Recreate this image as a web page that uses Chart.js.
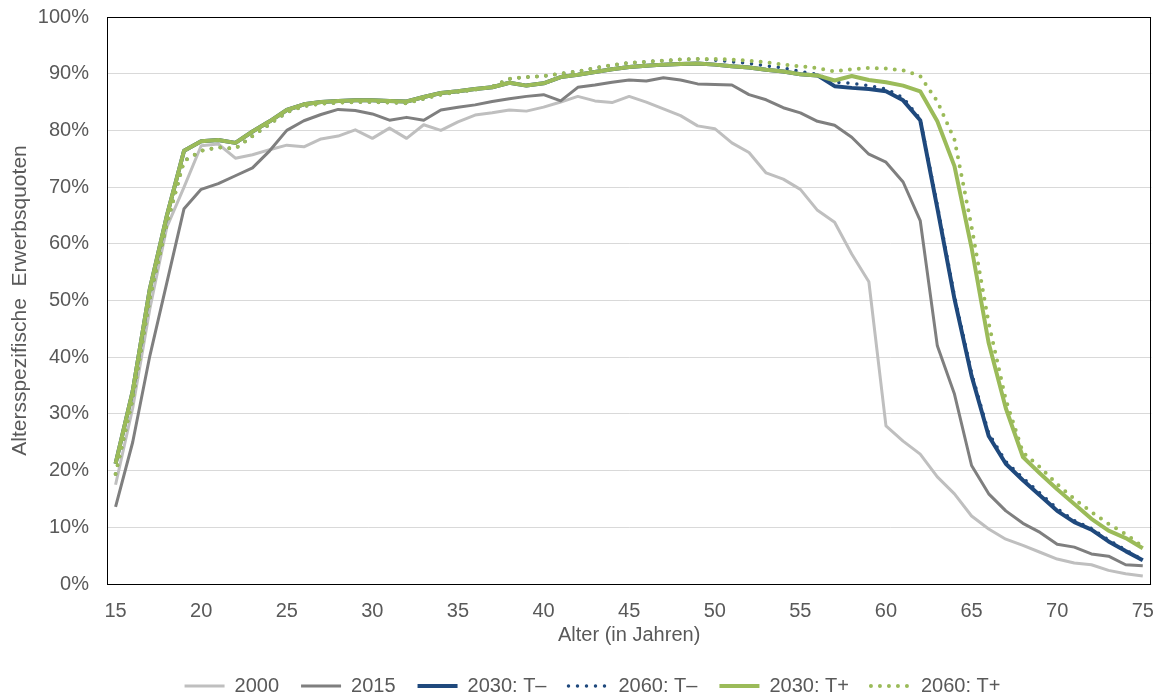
<!DOCTYPE html>
<html>
<head>
<meta charset="UTF-8">
<title>Altersspezifische Erwerbsquoten</title>
<script src="https://cdn.jsdelivr.net/npm/chart.js@4.4.1/dist/chart.umd.min.js"></script>
<style>
  body { margin: 0; background: #fff; }
</style>
</head>
<body>
<canvas id="chart" width="1169" height="699"></canvas>

<script>
// Alter 15..75
const ages = [15, 16, 17, 18, 19, 20, 21, 22, 23, 24,
              25, 26, 27, 28, 29, 30, 31, 32, 33, 34,
              35, 36, 37, 38, 39, 40, 41, 42, 43, 44,
              45, 46, 47, 48, 49, 50, 51, 52, 53, 54,
              55, 56, 57, 58, 59, 60, 61, 62, 63, 64,
              65, 66, 67, 68, 69, 70, 71, 72, 73, 74, 75]

// Erwerbsquoten in %
const q2000 = [17.5, 31.0, 48.5, 63.0, 70.0, 77.3, 77.6, 75.1, 75.7, 76.6,
               77.4, 77.1, 78.5, 79.0, 80.1, 78.6, 80.4, 78.6, 81.0, 80.0,
               81.5, 82.7, 83.1, 83.6, 83.4, 84.1, 85.0, 86.0, 85.2, 84.9,
               86.0, 85.0, 83.8, 82.6, 80.8, 80.3, 77.8, 76.1, 72.5, 71.4,
               69.6, 65.9, 63.8, 58.2, 53.3, 27.9, 25.2, 22.9, 18.9, 15.9,
               12.0, 9.7, 7.9, 6.8, 5.6, 4.4, 3.7, 3.4, 2.4, 1.8, 1.4]

const q2015 = [13.6, 25.0, 40.2, 53.2, 66.2, 69.6, 70.6, 72.0, 73.4, 76.4,
               80.0, 81.7, 82.8, 83.7, 83.5, 82.9, 81.8, 82.3, 81.8, 83.6,
               84.1, 84.5, 85.1, 85.6, 86.0, 86.3, 85.2, 87.6, 88.0, 88.5,
               88.9, 88.7, 89.3, 88.9, 88.2, 88.1, 88.0, 86.3, 85.4, 84.0,
               83.1, 81.6, 80.9, 78.8, 75.8, 74.4, 70.9, 64.1, 42.0, 33.5,
               20.9, 15.9, 12.9, 10.7, 9.1, 7.0, 6.5, 5.3, 4.9, 3.4, 3.2]

const q2030minus = [21.2, 34.0, 52.0, 65.0, 76.4, 78.1, 78.3, 77.8, 79.8, 81.6,
                    83.6, 84.6, 85.0, 85.2, 85.3, 85.3, 85.2, 85.1, 85.9, 86.6,
                    86.9, 87.3, 87.6, 88.4, 87.9, 88.3, 89.4, 89.8, 90.3, 90.8,
                    91.2, 91.4, 91.6, 91.7, 91.8, 91.6, 91.3, 91.1, 90.7, 90.4,
                    89.9, 89.7, 87.8, 87.5, 87.3, 86.9, 85.3, 81.8, 66.3, 50.3,
                    36.7, 26.1, 21.2, 18.3, 15.6, 12.9, 10.9, 9.6, 7.5, 5.8, 4.2]

const q2060minus = [19.4, 32.6, 50.3, 63.5, 74.6, 76.4, 77.0, 76.8, 79.0, 81.1,
                    83.2, 84.3, 84.7, 84.9, 85.0, 85.0, 84.9, 84.8, 85.6, 86.3,
                    86.8, 87.2, 87.7, 89.1, 89.4, 89.6, 90.0, 90.4, 91.0, 91.5,
                    91.9, 92.1, 92.3, 92.5, 92.6, 92.4, 92.1, 91.8, 91.4, 91.0,
                    90.4, 89.9, 88.5, 88.3, 87.9, 87.3, 85.8, 82.0, 66.8, 50.8,
                    37.2, 26.6, 21.6, 18.7, 16.0, 13.3, 11.2, 9.8, 7.8, 6.0, 4.3]

const q2030plus = [21.2, 34.0, 52.0, 65.0, 76.4, 78.1, 78.3, 77.8, 79.8, 81.6,
                   83.6, 84.6, 85.0, 85.2, 85.3, 85.3, 85.2, 85.1, 85.9, 86.6,
                   86.9, 87.3, 87.6, 88.4, 87.9, 88.3, 89.4, 89.8, 90.3, 90.8,
                   91.2, 91.4, 91.6, 91.7, 91.8, 91.6, 91.3, 91.1, 90.7, 90.4,
                   89.9, 89.7, 88.8, 89.6, 88.9, 88.5, 87.9, 86.9, 81.6, 73.7,
                   59.3, 42.5, 31.0, 22.4, 19.5, 16.7, 14.1, 11.5, 9.4, 8.1, 6.3]

const q2060plus = [19.4, 32.6, 50.3, 63.5, 74.6, 76.4, 77.0, 76.8, 79.0, 81.1,
                   83.2, 84.3, 84.7, 84.9, 85.0, 85.0, 84.9, 84.8, 85.6, 86.3,
                   86.8, 87.2, 87.7, 89.1, 89.4, 89.6, 90.0, 90.4, 91.0, 91.5,
                   91.9, 92.1, 92.3, 92.5, 92.6, 92.6, 92.5, 92.3, 92.0, 91.6,
                   91.3, 91.0, 90.4, 90.8, 91.0, 90.9, 90.6, 89.6, 85.1, 78.4,
                   63.0, 46.0, 32.5, 23.2, 20.6, 17.6, 15.0, 12.7, 10.6, 8.8, 6.6]

const hellgrau = '#bfbfbf'
const dunkelgrau = '#7f7f7f'
const blau = '#1f497d'
const gruen = '#9bbb59'
const textFarbe = '#595959'
const schrift = '"Liberation Sans", Arial, sans-serif'

function linie(label, data, color, width, dotted, order) {
   return {
      label: label,
      data: data,
      borderColor: color,
      backgroundColor: color,
      borderWidth: width,
      borderDash: dotted ? [0, 9] : [],
      borderCapStyle: dotted ? 'round' : 'butt',
      borderJoinStyle: 'round',
      pointRadius: 0,
      pointHoverRadius: 0,
      tension: 0,
      fill: false,
      order: order
   }
}

// Rahmen um die Zeichenfläche
const rahmen = {
   id: 'rahmen',
   beforeDatasetsDraw(chart) {
      const a = chart.chartArea
      const ctx = chart.ctx
      ctx.save()
      ctx.strokeStyle = '#000'
      ctx.lineWidth = 1
      ctx.strokeRect(Math.round(a.left) + 0.5, Math.round(a.top) + 0.5,
                     Math.round(a.right - a.left) - 1, Math.round(a.bottom - a.top))
      ctx.restore()
   }
}

const ctx = document.querySelector('#chart').getContext('2d')
const chart = new Chart(ctx, {
   type: 'line',
   data: {
      labels: ages,
      datasets: [
         linie('2000', q2000, hellgrau, 3, false, 5),
         linie('2015', q2015, dunkelgrau, 3, false, 4),
         linie('2030: T\u2013', q2030minus, blau, 4, false, 3),
         linie('2060: T\u2013', q2060minus, blau, 3.5, true, 2),
         linie('2030: T+', q2030plus, gruen, 4, false, 1),
         linie('2060: T+', q2060plus, gruen, 4, true, 0)
      ]
   },
   options: {
      responsive: false,
      devicePixelRatio: 1,
      animation: false,
      // links mehr Rand, damit die Legende wie im Original etwas nach rechts rückt
      layout: { padding: { top: 17, right: 12, bottom: -7, left: 28 } },
      scales: {
         x: {
            type: 'category',
            offset: true,
            grid: { display: false, drawTicks: false },
            border: { display: false },
            ticks: {
               autoSkip: false,
               maxRotation: 0,
               padding: 15,
               color: textFarbe,
               font: { family: schrift, size: 20 },
               callback: function (val, i) {
                  return ages[i] % 5 === 0 ? ages[i] : null
               }
            },
            title: {
               display: true,
               text: 'Alter (in Jahren)',
               color: textFarbe,
               font: { family: schrift, size: 20 },
               padding: { top: 0, bottom: 7 }
            },
            afterFit: function (s) { s.height = 70 }
         },
         y: {
            min: 0,
            max: 100,
            // unsichtbare Tick-Striche als Abstand, damit oben kein Extra-Rand entsteht
            grid: { color: '#d9d9d9', drawTicks: true, tickLength: 18, tickColor: 'rgba(0,0,0,0)' },
            border: { display: false },
            ticks: {
               stepSize: 10,
               padding: 0,
               color: textFarbe,
               font: { family: schrift, size: 20 },
               callback: function (v) { return v + '%' }
            },
            title: {
               display: true,
               text: 'Altersspezifische  Erwerbsquoten',
               color: textFarbe,
               font: { family: schrift, size: 21 },
               padding: { top: -20, bottom: 0 }
            },
            afterFit: function (s) { s.width = 79 }
         }
      },
      plugins: {
         tooltip: { enabled: false },
         legend: {
            position: 'bottom',
            labels: {
               usePointStyle: true,
               pointStyle: 'line',
               pointStyleWidth: 40,
               padding: 22,
               color: textFarbe,
               font: { family: schrift, size: 20 },
               sort: function (a, b) { return a.datasetIndex - b.datasetIndex },
               generateLabels: function (chart) {
                  const items = Chart.defaults.plugins.legend.labels.generateLabels(chart)
                  items.forEach(function (it) {
                     const ds = chart.data.datasets[it.datasetIndex]
                     it.lineDash = ds.borderDash
                     it.lineCap = ds.borderCapStyle
                     it.lineWidth = ds.borderWidth
                     it.strokeStyle = ds.borderColor
                  })
                  return items
               }
            }
         }
      }
   },
   plugins: [rahmen]
})
</script>
</body>
</html>
